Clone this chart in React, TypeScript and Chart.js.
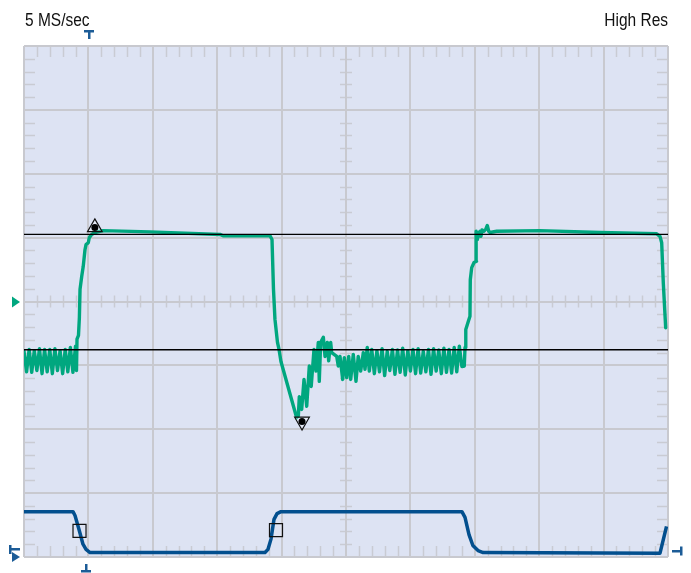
import React, { useEffect, useRef } from "react";
import { Chart, registerables } from "chart.js";

Chart.register(...registerables);

// Screen geometry in divisions: 10 horizontal, 8 vertical (±4 around centre)
const X_DIVS = [0, 10];
const Y_DIVS = [-4, 4];
const MINOR_PER_DIV = 5;

// Header labels
const SAMPLE_RATE_LABEL = "5 MS/sec";
const ACQ_MODE_LABEL = "High Res";

// Marker positions (divisions)
const TRIGGER_POS = 1.0;
const TRIGGER_POS_BOTTOM = 0.96;
const CH1_GROUND = 0;
const CH2_GROUND = -3.88;
const CH2_TRIG_LEVEL = -3.91;

// Cursor levels (divisions)
const cursorUpper = 1.05;
const cursorLower = -0.755;

// Channel 1 trace: [time (div), level (div)]
const ch1: [number, number][] = [
  [0.0, -0.78], [0.04, -1.1], [0.08, -0.75], [0.12, -1.11], [0.16, -0.77], [0.2, -1.08],
  [0.24, -0.74], [0.28, -1.13], [0.32, -0.75], [0.36, -1.1], [0.4, -0.75], [0.44, -1.13],
  [0.48, -0.74], [0.52, -1.08], [0.56, -0.77], [0.6, -1.13], [0.64, -0.75], [0.68, -1.1],
  [0.72, -0.72], [0.76, -1.11], [0.8, -0.7], [0.815, -1.08],
  [0.823, -0.59], [0.846, -0.53], [0.86, -0.25], [0.87, 0.19], [0.896, 0.39], [0.92, 0.55],
  [0.947, 0.81], [0.963, 0.89], [0.998, 0.92], [1.014, 1.0], [1.051, 1.05], [1.102, 1.08],
  [1.227, 1.11], [1.957, 1.09], [3.043, 1.05], [3.09, 1.03], [3.82, 1.03],
  [3.851, 0.97], [3.874, 0.19], [3.897, -0.28], [3.936, -0.64], [3.96, -0.75], [3.99, -0.94],
  [4.234, -1.82], [4.26, -1.79], [4.275, -1.49], [4.312, -1.69], [4.348, -1.22], [4.39, -1.64],
  [4.43, -1.01], [4.46, -1.33], [4.503, -0.75], [4.534, -1.09], [4.57, -0.64], [4.585, -1.25],
  [4.607, -0.64], [4.648, -0.56], [4.674, -0.86], [4.71, -0.64], [4.731, -0.93], [4.762, -0.64],
  [4.778, -0.8], [4.856, -0.86], [4.88, -1.01], [4.907, -0.86], [4.949, -1.22], [4.974, -0.88],
  [5.011, -1.19], [5.042, -0.86], [5.073, -1.22], [5.113, -0.83], [5.155, -1.25], [5.19, -0.86],
  [5.228, -1.09], [5.269, -0.8], [5.295, -1.06], [5.33, -0.72], [5.362, -1.09],
  [5.4, -0.75], [5.44, -1.13], [5.48, -0.77], [5.52, -1.1], [5.56, -0.74], [5.6, -1.16],
  [5.64, -0.78], [5.68, -1.08], [5.72, -0.75], [5.76, -1.14], [5.8, -0.76], [5.84, -1.11],
  [5.88, -0.73], [5.92, -1.15], [5.96, -0.77], [6.0, -1.09], [6.04, -0.75], [6.08, -1.13],
  [6.12, -0.74], [6.16, -1.12], [6.2, -0.78], [6.24, -1.1], [6.28, -0.75], [6.32, -1.14],
  [6.36, -0.74], [6.4, -1.09], [6.44, -0.76], [6.48, -1.13], [6.52, -0.73], [6.56, -1.11],
  [6.6, -0.75], [6.64, -1.12], [6.68, -0.72], [6.72, -1.1], [6.76, -0.7], [6.8, -1.02],
  [6.837, -1.01], [6.848, -0.72], [6.86, -0.44], [6.9, -0.31], [6.925, -0.23], [6.93, 0.34],
  [6.952, 0.53], [6.988, 0.61], [7.026, 0.63], [7.022, 1.02], [7.019, 1.1], [7.039, 0.97],
  [7.065, 1.08], [7.081, 1.1], [7.096, 1.02], [7.112, 1.12], [7.143, 1.1], [7.174, 1.14],
  [7.194, 1.19], [7.216, 1.1], [7.236, 1.08], [7.34, 1.1], [8.012, 1.11], [8.944, 1.08],
  [9.825, 1.06], [9.876, 1.02], [9.902, 0.92], [9.927, 0.29], [9.964, -0.41],
];

// Channel 2 trace: [time (div), level (div)]
const ch2: [number, number][] = [
  [0.0, -3.29], [0.761, -3.29], [0.792, -3.35], [0.854, -3.57], [0.916, -3.8], [0.963, -3.88],
  [1.025, -3.93], [3.742, -3.93], [3.789, -3.88], [3.835, -3.72], [3.882, -3.41], [3.929, -3.32],
  [3.99, -3.29], [6.8, -3.29], [6.848, -3.38], [6.91, -3.65], [6.97, -3.82], [7.05, -3.9],
  [7.13, -3.93], [9.876, -3.94], [9.977, -3.52],
];

// Peak markers on channel 1 (max, min)
const peakMarkers: [number, number][] = [[1.1, 1.16], [4.317, -1.878]];
const peakRotation = [0, 180];

// Edge markers on channel 2
const edgeMarkers: [number, number][] = [[0.862, -3.59], [3.913, -3.58]];

const GREEN = "#00a77f";
const BLUE = "#024f8e";
const MARK_BLUE = "#1c5c97";
const PLOT_BG = "#dde3f3";
const GRID = "#c8c9cf";
const TICK = "#c9cbd3";

const toPts = (arr: [number, number][]) => arr.map(([x, y]) => ({ x, y }));

// Draws condensed header text by squeezing the glyphs horizontally
function condensedText(ctx: CanvasRenderingContext2D, text: string, x: number, y: number, align: "left" | "right", squeeze: number) {
  ctx.save();
  ctx.translate(x, y);
  ctx.scale(squeeze, 1);
  ctx.textAlign = align;
  ctx.fillText(text, 0, 0);
  ctx.restore();
}

const scopeGrid = {
  id: "scopeGrid",
  beforeDatasetsDraw(chart: any) {
    const { ctx, chartArea: a, scales } = chart;
    const xs = scales.x;
    const ys = scales.y;
    ctx.save();
    ctx.fillStyle = PLOT_BG;
    ctx.fillRect(a.left, a.top, a.right - a.left, a.bottom - a.top);

    const seg = (x1: number, y1: number, x2: number, y2: number) => {
      ctx.beginPath();
      ctx.moveTo(x1, y1);
      ctx.lineTo(x2, y2);
      ctx.stroke();
    };

    // minor ticks
    ctx.strokeStyle = TICK;
    ctx.lineWidth = 1.5;
    const cx = xs.getPixelForValue((X_DIVS[0] + X_DIVS[1]) / 2);
    const cy = ys.getPixelForValue((Y_DIVS[0] + Y_DIVS[1]) / 2);
    for (let i = X_DIVS[0] * MINOR_PER_DIV; i <= X_DIVS[1] * MINOR_PER_DIV; i++) {
      if (i % MINOR_PER_DIV === 0) continue;
      const px = Math.round(xs.getPixelForValue(i / MINOR_PER_DIV)) + 0.5;
      seg(px, a.top, px, a.top + 11);
      seg(px, a.bottom - 11, px, a.bottom);
      seg(px, cy - 6, px, cy + 6);
    }
    for (let i = Y_DIVS[0] * MINOR_PER_DIV; i <= Y_DIVS[1] * MINOR_PER_DIV; i++) {
      if (i % MINOR_PER_DIV === 0) continue;
      const py = Math.round(ys.getPixelForValue(i / MINOR_PER_DIV)) + 0.5;
      seg(a.left, py, a.left + 11, py);
      seg(a.right - 11, py, a.right, py);
      seg(cx - 6, py, cx + 6, py);
    }

    // major grid
    ctx.strokeStyle = GRID;
    ctx.lineWidth = 2;
    for (let d = X_DIVS[0]; d <= X_DIVS[1]; d++) {
      const px = Math.round(xs.getPixelForValue(d));
      seg(px, a.top, px, a.bottom);
    }
    for (let d = Y_DIVS[0]; d <= Y_DIVS[1]; d++) {
      const py = Math.round(ys.getPixelForValue(d));
      seg(a.left, py, a.right, py);
    }
    ctx.restore();
  },
  afterDraw(chart: any) {
    const { ctx, chartArea: a, scales } = chart;
    const xs = scales.x;
    const ys = scales.y;
    ctx.save();

    // header text
    ctx.fillStyle = "#111";
    ctx.font = '18px "Liberation Sans", Arial, sans-serif';
    ctx.textBaseline = "alphabetic";
    condensedText(ctx, SAMPLE_RATE_LABEL, a.left + 1, 26, "left", 0.86);
    condensedText(ctx, ACQ_MODE_LABEL, a.right, 26, "right", 0.86);

    // trigger position marker, top
    ctx.fillStyle = MARK_BLUE;
    const tx = Math.round(xs.getPixelForValue(TRIGGER_POS)) + 1;
    ctx.fillRect(tx - 5, 30, 10, 2.5);
    ctx.fillRect(tx - 1, 30, 2.5, 9);

    // trigger position marker, bottom
    const bx = Math.round(xs.getPixelForValue(TRIGGER_POS_BOTTOM));
    ctx.fillRect(bx - 5, a.bottom + 13, 10, 2.5);
    ctx.fillRect(bx - 1, a.bottom + 7, 2.5, 8);

    // channel 2 trigger level marker, right
    const ry = Math.round(ys.getPixelForValue(CH2_TRIG_LEVEL));
    ctx.fillRect(a.right + 4, ry - 1, 10, 2.5);
    ctx.fillRect(a.right + 12, ry - 4.5, 2.5, 9);

    // channel 2 ground marker, left
    const gy = Math.round(ys.getPixelForValue(CH2_GROUND));
    ctx.fillRect(9, gy - 4, 2.5, 9);
    ctx.fillRect(9, gy - 1, 11, 2.5);
    ctx.beginPath();
    ctx.moveTo(12, gy + 3);
    ctx.lineTo(20, gy + 8);
    ctx.lineTo(12, gy + 13);
    ctx.closePath();
    ctx.fill();

    // channel 1 ground marker, left
    const g1 = ys.getPixelForValue(CH1_GROUND);
    ctx.fillStyle = GREEN;
    ctx.beginPath();
    ctx.moveTo(12, g1 - 5);
    ctx.lineTo(20, g1 + 0.5);
    ctx.lineTo(12, g1 + 6);
    ctx.closePath();
    ctx.fill();

    ctx.restore();
  },
};

export default function App() {
  const ref = useRef<HTMLCanvasElement | null>(null);

  useEffect(() => {
    if (!ref.current) return;
    const chart = new Chart(ref.current, {
      type: "line",
      data: {
        datasets: [
          {
            label: "peak dots",
            data: toPts(peakMarkers),
            showLine: false,
            pointStyle: "circle",
            pointRadius: 3.5,
            pointBackgroundColor: "#000",
            pointBorderWidth: 0,
          },
          {
            label: "peaks",
            data: toPts(peakMarkers),
            showLine: false,
            pointStyle: "triangle",
            pointRotation: peakRotation,
            pointRadius: 8.5,
            pointBackgroundColor: "rgba(255,255,255,0.25)",
            pointBorderColor: "#111",
            pointBorderWidth: 1.2,
          },
          {
            label: "edges",
            data: toPts(edgeMarkers),
            showLine: false,
            pointStyle: "rect",
            pointRadius: 9.2,
            pointBackgroundColor: "rgba(0,0,0,0)",
            pointBorderColor: "#111",
            pointBorderWidth: 1.2,
          },
          {
            label: "cursor upper",
            data: toPts([[X_DIVS[0], cursorUpper], [X_DIVS[1], cursorUpper]]),
            borderColor: "#000",
            borderWidth: 1.3,
            pointRadius: 0,
          },
          {
            label: "cursor lower",
            data: toPts([[X_DIVS[0], cursorLower], [X_DIVS[1], cursorLower]]),
            borderColor: "#000",
            borderWidth: 1.3,
            pointRadius: 0,
          },
          {
            label: "CH1",
            data: toPts(ch1),
            borderColor: GREEN,
            borderWidth: 3.4,
            borderJoinStyle: "round",
            borderCapStyle: "round",
            pointRadius: 0,
            tension: 0,
          },
          {
            label: "CH2",
            data: toPts(ch2),
            borderColor: BLUE,
            borderWidth: 3.5,
            borderJoinStyle: "round",
            pointRadius: 0,
            tension: 0,
          },
        ],
      },
      options: {
        animation: false,
        responsive: false,
        devicePixelRatio: 1,
        layout: { padding: { left: 24, right: 23, top: 46, bottom: 16 } },
        plugins: { legend: { display: false }, tooltip: { enabled: false } },
        elements: { line: { fill: false } },
        scales: {
          x: { type: "linear", display: false, min: X_DIVS[0], max: X_DIVS[1] },
          y: { type: "linear", display: false, min: Y_DIVS[0], max: Y_DIVS[1] },
        },
      },
      plugins: [scopeGrid],
    } as any);
    return () => chart.destroy();
  }, []);

  return (
    <div style={{ position: "absolute", left: 0, top: 0, width: 691, height: 573, background: "#fff" }}>
      <canvas ref={ref} width={691} height={573} style={{ display: "block" }} />
    </div>
  );
}
